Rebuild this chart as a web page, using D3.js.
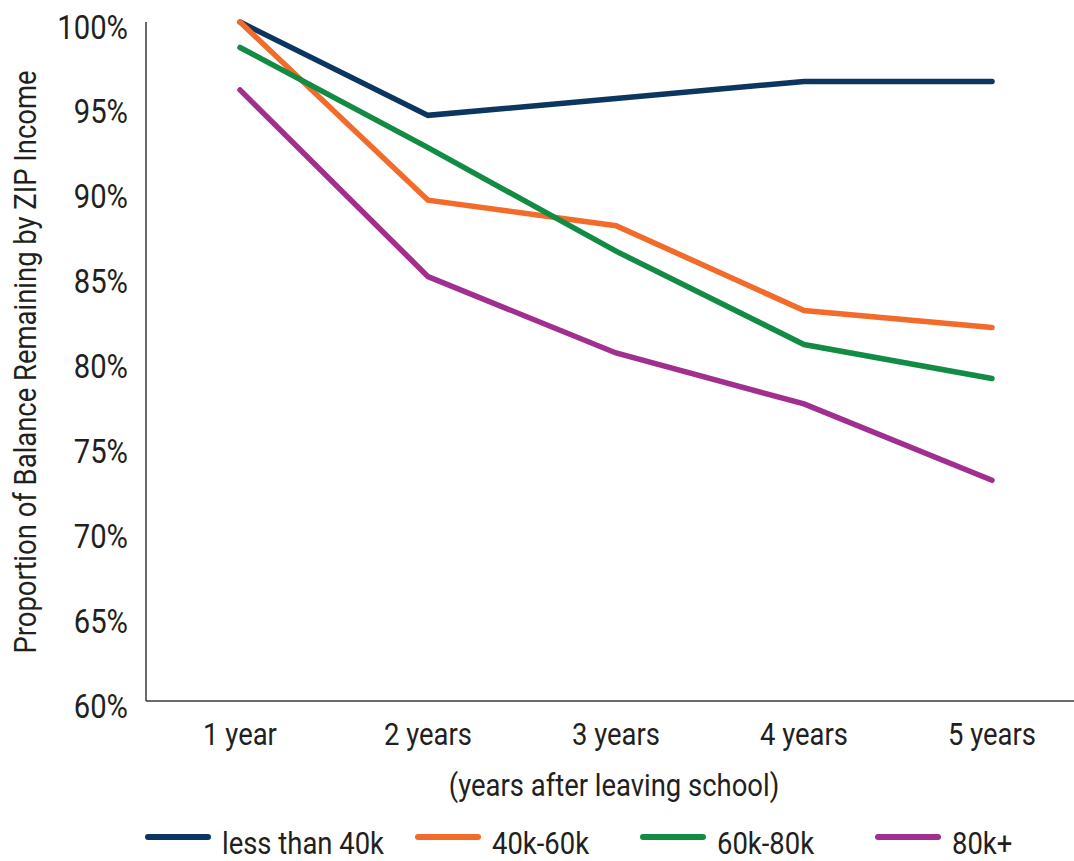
<!DOCTYPE html>
<html>
<head>
<meta charset="utf-8">
<script src="https://cdn.jsdelivr.net/npm/d3@7"></script>
<style>
  html, body { margin: 0; padding: 0; background: #fff; }
  svg { display: block; }
  text { font-family: Roboto, "DejaVu Sans", sans-serif; fill: #231f20; }
</style>
</head>
<body>
<svg id="chart" width="1074" height="861"></svg>
<script>
// Years since leaving school
const categories = ["1 year", "2 years", "3 years", "4 years", "5 years"];

// Share of balance remaining (%) by ZIP income group
const seriesNames = ["less than 40k", "40k-60k", "60k-80k", "80k+"];
const lessThan40k = [100, 94.5, 95.5, 96.5, 96.5];
const from40kTo60k = [100, 89.5, 88.0, 83.0, 82.0];
const from60kTo80k = [98.5, 92.6, 86.5, 81.0, 79.0];
const over80k = [96.0, 85.0, 80.5, 77.5, 73.0];
const seriesColors = ["#0c355f", "#f26b2a", "#128c44", "#a02f8f"];

const yTicks = [60, 65, 70, 75, 80, 85, 90, 95, 100];

const series = [lessThan40k, from40kTo60k, from60kTo80k, over80k].map((values, i) => ({
  name: seriesNames[i], color: seriesColors[i], values
}));

const svg = d3.select("#chart");
const W = 1074;
const plotLeft = 146, plotTop = 22, plotBottom = 701, stepW = 188;
const NARROW = 0.885; // horizontal squeeze for a condensed look

const x = d3.scalePoint().domain(categories).range([plotLeft + stepW / 2, plotLeft + stepW * 4.5]);
const y = d3.scaleLinear().domain([60, 100]).range([plotBottom, plotTop]);

// Condensed text: positioned group, squeezed horizontally
function label(parent, tx, ty, str, size, anchor, rotate) {
  const g = parent.append("g")
    .attr("transform", `translate(${tx},${ty})${rotate ? ` rotate(${rotate})` : ""} scale(${NARROW},1)`);
  g.append("text").attr("text-anchor", anchor).attr("font-size", size).text(str);
  return g;
}

// Axis lines
svg.append("line").attr("x1", plotLeft).attr("x2", plotLeft).attr("y1", plotTop).attr("y2", plotBottom)
  .attr("stroke", "#3a3a3a").attr("stroke-width", 1.5);
svg.append("line").attr("x1", plotLeft).attr("x2", W).attr("y1", plotBottom).attr("y2", plotBottom)
  .attr("stroke", "#3a3a3a").attr("stroke-width", 1.5);

// Y tick labels
const yLabels = svg.append("g");
yTicks.forEach(t => label(yLabels, 128, y(t) + 16.5, t + "%", 33, "end"));

// X tick labels
const xLabels = svg.append("g");
categories.forEach(c => label(xLabels, x(c), 745, c, 31, "middle"));

// Axis titles
label(svg, 614, 796, "(years after leaving school)", 31, "middle");
label(svg, 36, 362, "Proportion of Balance Remaining by ZIP Income", 31, "middle", -90);

// Lines
const line = d3.line().x((d, i) => x(categories[i])).y(d => y(d));
svg.append("g").selectAll("path").data(series).join("path")
  .attr("d", d => line(d.values))
  .attr("fill", "none")
  .attr("stroke", d => d.color)
  .attr("stroke-width", 5.5)
  .attr("stroke-linecap", "round")
  .attr("stroke-linejoin", "miter");

// Legend
const legendX = [148, 418, 643, 878];
const lg = svg.append("g");
series.forEach((s, i) => {
  lg.append("line").attr("x1", legendX[i]).attr("x2", legendX[i] + 60).attr("y1", 837).attr("y2", 837)
    .attr("stroke", s.color).attr("stroke-width", 6).attr("stroke-linecap", "round");
  label(lg, legendX[i] + 74, 854, s.name, 31, "start");
});
</script>
</body>
</html>
